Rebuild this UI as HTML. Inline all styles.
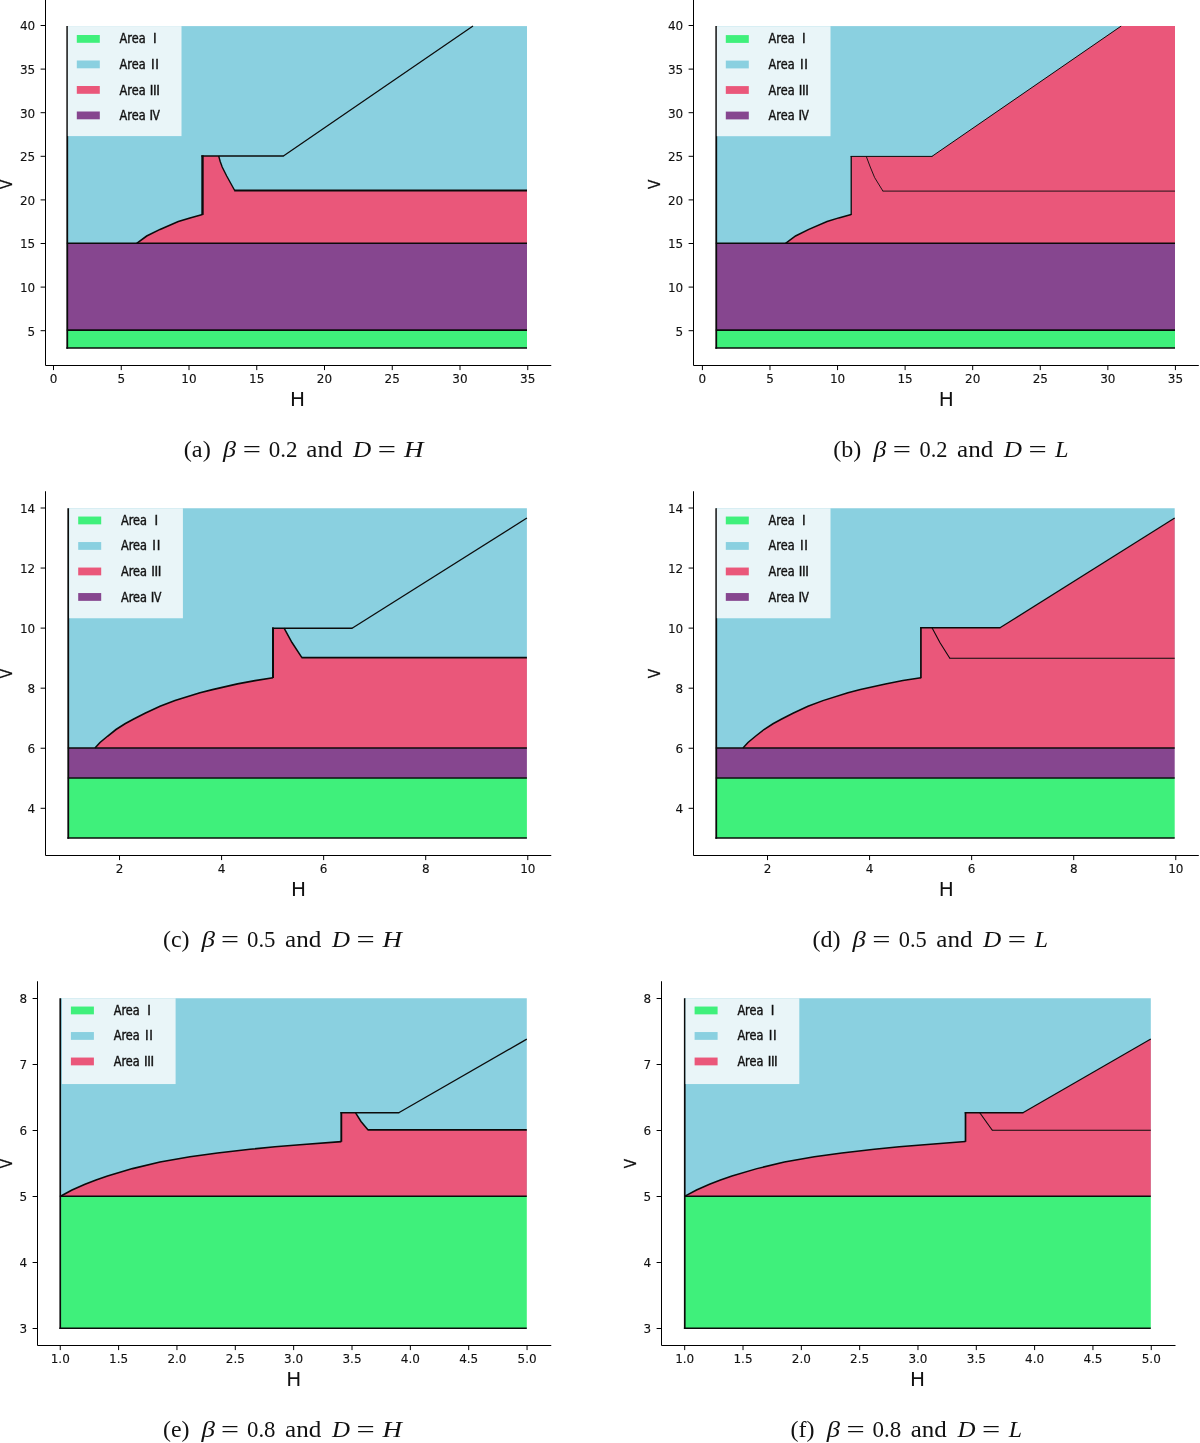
<!DOCTYPE html>
<html lang="en"><head><meta charset="utf-8"><title>Areas I-IV</title>
<style>html,body{margin:0;padding:0;background:#fff}svg{display:block}</style></head><body>
<svg width="1200" height="1443" viewBox="0 0 1200 1443">
<rect width="1200" height="1443" fill="#fff"/>
<rect x="67.00" y="26.1" width="460.00" height="217.10" fill="#8ad0e0"/>
<rect x="67.00" y="243.2" width="460.00" height="86.90" fill="#86468f"/>
<rect x="67.00" y="330.1" width="460.00" height="17.90" fill="#3ff07b"/>
<polygon points="136.70,243.30 146.70,236.00 160.00,229.40 178.30,221.50 190.00,217.90 202.50,214.60 202.50,156.00 218.70,156.00 220.20,161.50 222.20,167.00 226.70,176.00 234.70,190.50 527.00,190.50 527.00,243.20" fill="#ea577a"/>
<polyline points="136.70,243.30 146.70,236.00 160.00,229.40 178.30,221.50 190.00,217.90 202.50,214.60" fill="none" stroke="#0b0b0b" stroke-width="1.6" stroke-linejoin="miter" stroke-linecap="butt"/>
<polyline points="202.50,214.90 202.50,155.30" fill="none" stroke="#0b0b0b" stroke-width="2.4" stroke-linejoin="miter" stroke-linecap="butt"/>
<polyline points="201.40,156.00 283.80,156.00" fill="none" stroke="#0b0b0b" stroke-width="1.5" stroke-linejoin="miter" stroke-linecap="butt"/>
<polyline points="283.40,156.00 473.00,26.10" fill="none" stroke="#0b0b0b" stroke-width="1.25" stroke-linejoin="miter" stroke-linecap="butt"/>
<polyline points="218.70,156.00 220.20,161.50 222.20,167.00 226.70,176.00 234.70,190.50" fill="none" stroke="#0b0b0b" stroke-width="1.4" stroke-linejoin="miter" stroke-linecap="butt"/>
<polyline points="234.20,190.50 527.00,190.50" fill="none" stroke="#0b0b0b" stroke-width="2.0" stroke-linejoin="miter" stroke-linecap="butt"/>
<polyline points="66.80,243.20 527.00,243.20" fill="none" stroke="#0b0b0b" stroke-width="1.6" stroke-linejoin="miter" stroke-linecap="butt"/>
<polyline points="66.80,330.10 527.00,330.10" fill="none" stroke="#0b0b0b" stroke-width="1.65" stroke-linejoin="miter" stroke-linecap="butt"/>
<polyline points="67.25,26.10 67.25,348.80" fill="none" stroke="#0b0b0b" stroke-width="1.8" stroke-linejoin="miter" stroke-linecap="butt"/>
<polyline points="66.35,348.00 527.00,348.00" fill="none" stroke="#0b0b0b" stroke-width="1.6" stroke-linejoin="miter" stroke-linecap="butt"/>
<rect x="67.80" y="26.10" width="113.70" height="110" fill="#e9f5f8"/>
<rect x="76.80" y="35.00" width="23" height="7.8" fill="#3ff07b"/>
<text y="43.30" font-family="DejaVu Sans Condensed, DejaVu Sans, Liberation Sans, sans-serif" font-size="13.6" fill="#111" stroke="#111" stroke-width="0.4"><tspan x="119.60" textLength="26.0" lengthAdjust="spacingAndGlyphs">Area</tspan><tspan x="153.05">I</tspan></text>
<rect x="76.80" y="60.50" width="23" height="7.8" fill="#8ad0e0"/>
<text y="68.90" font-family="DejaVu Sans Condensed, DejaVu Sans, Liberation Sans, sans-serif" font-size="13.6" fill="#111" stroke="#111" stroke-width="0.4"><tspan x="119.60" textLength="26.0" lengthAdjust="spacingAndGlyphs">Area</tspan><tspan x="150.90 155.25">II</tspan></text>
<rect x="76.80" y="86.00" width="23" height="7.8" fill="#ea577a"/>
<text y="94.50" font-family="DejaVu Sans Condensed, DejaVu Sans, Liberation Sans, sans-serif" font-size="13.6" fill="#111" stroke="#111" stroke-width="0.4"><tspan x="119.60" textLength="26.0" lengthAdjust="spacingAndGlyphs">Area</tspan><tspan x="149.85 153.10 156.30">III</tspan></text>
<rect x="76.80" y="111.50" width="23" height="7.8" fill="#86468f"/>
<text y="120.10" font-family="DejaVu Sans Condensed, DejaVu Sans, Liberation Sans, sans-serif" font-size="13.6" fill="#111" stroke="#111" stroke-width="0.4"><tspan x="119.60" textLength="26.0" lengthAdjust="spacingAndGlyphs">Area</tspan><tspan x="149.45">I</tspan><tspan x="152.60" textLength="7.4" lengthAdjust="spacingAndGlyphs">V</tspan></text>
<path d="M45.50,-2.00V365.50H551.25" fill="none" stroke="#000" stroke-width="1.0"/>
<path d="M53.50,365.50v4.6M121.25,365.50v4.6M189.00,365.50v4.6M256.75,365.50v4.6M324.50,365.50v4.6M392.25,365.50v4.6M460.00,365.50v4.6M527.75,365.50v4.6M45.50,330.70h-4.9M45.50,287.10h-4.9M45.50,243.50h-4.9M45.50,199.90h-4.9M45.50,156.30h-4.9M45.50,112.70h-4.9M45.50,69.10h-4.9M45.50,25.50h-4.9" fill="none" stroke="#000" stroke-width="1.0"/>
<g font-family="DejaVu Sans, Liberation Sans, sans-serif" font-size="12" fill="#111" stroke="#111" stroke-width="0.12">
<text x="53.50" y="383.10" text-anchor="middle">0</text>
<text x="121.25" y="383.10" text-anchor="middle">5</text>
<text x="189.00" y="383.10" text-anchor="middle">10</text>
<text x="256.75" y="383.10" text-anchor="middle">15</text>
<text x="324.50" y="383.10" text-anchor="middle">20</text>
<text x="392.25" y="383.10" text-anchor="middle">25</text>
<text x="460.00" y="383.10" text-anchor="middle">30</text>
<text x="527.75" y="383.10" text-anchor="middle">35</text>
<text x="35.20" y="335.50" text-anchor="end">5</text>
<text x="35.20" y="291.90" text-anchor="end">10</text>
<text x="35.20" y="248.30" text-anchor="end">15</text>
<text x="35.20" y="204.70" text-anchor="end">20</text>
<text x="35.20" y="161.10" text-anchor="end">25</text>
<text x="35.20" y="117.50" text-anchor="end">30</text>
<text x="35.20" y="73.90" text-anchor="end">35</text>
<text x="35.20" y="30.30" text-anchor="end">40</text>
</g>
<text x="297.40" y="405.70" text-anchor="middle" font-family="DejaVu Sans, Liberation Sans, sans-serif" font-size="20" fill="#111">H</text>
<text transform="translate(11.70,184.40) rotate(-90) scale(0.86,1)" text-anchor="middle" font-family="DejaVu Sans, Liberation Sans, sans-serif" font-size="16" fill="#111" stroke="#111" stroke-width="0.3">V</text>
<rect x="716.00" y="26.1" width="459.00" height="217.10" fill="#8ad0e0"/>
<rect x="716.00" y="243.2" width="459.00" height="86.90" fill="#86468f"/>
<rect x="716.00" y="330.1" width="459.00" height="17.90" fill="#3ff07b"/>
<polygon points="785.55,243.30 795.53,236.00 808.80,229.40 827.06,221.50 838.73,217.90 851.21,214.60 851.21,156.40 931.93,156.40 1121.12,26.10 1175.00,26.10 1175.00,243.20" fill="#ea577a"/>
<polyline points="785.55,243.30 795.53,236.00 808.80,229.40 827.06,221.50 838.73,217.90 851.21,214.60" fill="none" stroke="#0b0b0b" stroke-width="1.5" stroke-linejoin="miter" stroke-linecap="butt"/>
<polyline points="851.21,214.90 851.21,155.90" fill="none" stroke="#0b0b0b" stroke-width="1.3" stroke-linejoin="miter" stroke-linecap="butt"/>
<polyline points="850.71,156.40 932.33,156.40" fill="none" stroke="#0b0b0b" stroke-width="1.0" stroke-linejoin="miter" stroke-linecap="butt"/>
<polyline points="931.93,156.40 1121.12,26.10" fill="none" stroke="#0b0b0b" stroke-width="1.0" stroke-linejoin="miter" stroke-linecap="butt"/>
<polyline points="866.27,156.40 870.26,167.00 874.65,177.60 882.94,191.10" fill="none" stroke="#0b0b0b" stroke-width="0.9" stroke-linejoin="miter" stroke-linecap="butt"/>
<polyline points="882.64,191.10 1175.00,191.10" fill="none" stroke="#0b0b0b" stroke-width="0.9" stroke-linejoin="miter" stroke-linecap="butt"/>
<polyline points="715.80,243.20 1175.00,243.20" fill="none" stroke="#0b0b0b" stroke-width="1.6" stroke-linejoin="miter" stroke-linecap="butt"/>
<polyline points="715.80,330.10 1175.00,330.10" fill="none" stroke="#0b0b0b" stroke-width="1.65" stroke-linejoin="miter" stroke-linecap="butt"/>
<polyline points="716.25,26.10 716.25,348.80" fill="none" stroke="#0b0b0b" stroke-width="1.8" stroke-linejoin="miter" stroke-linecap="butt"/>
<polyline points="715.35,348.00 1175.00,348.00" fill="none" stroke="#0b0b0b" stroke-width="1.6" stroke-linejoin="miter" stroke-linecap="butt"/>
<rect x="716.80" y="26.20" width="113.70" height="110" fill="#e9f5f8"/>
<rect x="725.80" y="35.10" width="23" height="7.8" fill="#3ff07b"/>
<text y="43.40" font-family="DejaVu Sans Condensed, DejaVu Sans, Liberation Sans, sans-serif" font-size="13.6" fill="#111" stroke="#111" stroke-width="0.4"><tspan x="768.60" textLength="26.0" lengthAdjust="spacingAndGlyphs">Area</tspan><tspan x="802.05">I</tspan></text>
<rect x="725.80" y="60.60" width="23" height="7.8" fill="#8ad0e0"/>
<text y="69.00" font-family="DejaVu Sans Condensed, DejaVu Sans, Liberation Sans, sans-serif" font-size="13.6" fill="#111" stroke="#111" stroke-width="0.4"><tspan x="768.60" textLength="26.0" lengthAdjust="spacingAndGlyphs">Area</tspan><tspan x="799.90 804.25">II</tspan></text>
<rect x="725.80" y="86.10" width="23" height="7.8" fill="#ea577a"/>
<text y="94.60" font-family="DejaVu Sans Condensed, DejaVu Sans, Liberation Sans, sans-serif" font-size="13.6" fill="#111" stroke="#111" stroke-width="0.4"><tspan x="768.60" textLength="26.0" lengthAdjust="spacingAndGlyphs">Area</tspan><tspan x="798.85 802.10 805.30">III</tspan></text>
<rect x="725.80" y="111.60" width="23" height="7.8" fill="#86468f"/>
<text y="120.20" font-family="DejaVu Sans Condensed, DejaVu Sans, Liberation Sans, sans-serif" font-size="13.6" fill="#111" stroke="#111" stroke-width="0.4"><tspan x="768.60" textLength="26.0" lengthAdjust="spacingAndGlyphs">Area</tspan><tspan x="798.45">I</tspan><tspan x="801.60" textLength="7.4" lengthAdjust="spacingAndGlyphs">V</tspan></text>
<path d="M693.50,-2.00V365.50H1198.80" fill="none" stroke="#000" stroke-width="1.0"/>
<path d="M702.40,365.50v4.6M769.98,365.50v4.6M837.55,365.50v4.6M905.12,365.50v4.6M972.70,365.50v4.6M1040.28,365.50v4.6M1107.85,365.50v4.6M1175.42,365.50v4.6M693.50,330.70h-4.9M693.50,287.10h-4.9M693.50,243.50h-4.9M693.50,199.90h-4.9M693.50,156.30h-4.9M693.50,112.70h-4.9M693.50,69.10h-4.9M693.50,25.50h-4.9" fill="none" stroke="#000" stroke-width="1.0"/>
<g font-family="DejaVu Sans, Liberation Sans, sans-serif" font-size="12" fill="#111" stroke="#111" stroke-width="0.12">
<text x="702.40" y="383.10" text-anchor="middle">0</text>
<text x="769.98" y="383.10" text-anchor="middle">5</text>
<text x="837.55" y="383.10" text-anchor="middle">10</text>
<text x="905.12" y="383.10" text-anchor="middle">15</text>
<text x="972.70" y="383.10" text-anchor="middle">20</text>
<text x="1040.28" y="383.10" text-anchor="middle">25</text>
<text x="1107.85" y="383.10" text-anchor="middle">30</text>
<text x="1175.42" y="383.10" text-anchor="middle">35</text>
<text x="683.20" y="335.50" text-anchor="end">5</text>
<text x="683.20" y="291.90" text-anchor="end">10</text>
<text x="683.20" y="248.30" text-anchor="end">15</text>
<text x="683.20" y="204.70" text-anchor="end">20</text>
<text x="683.20" y="161.10" text-anchor="end">25</text>
<text x="683.20" y="117.50" text-anchor="end">30</text>
<text x="683.20" y="73.90" text-anchor="end">35</text>
<text x="683.20" y="30.30" text-anchor="end">40</text>
</g>
<text x="946.25" y="405.70" text-anchor="middle" font-family="DejaVu Sans, Liberation Sans, sans-serif" font-size="20" fill="#111">H</text>
<text transform="translate(659.90,184.40) rotate(-90) scale(0.86,1)" text-anchor="middle" font-family="DejaVu Sans, Liberation Sans, sans-serif" font-size="16" fill="#111" stroke="#111" stroke-width="0.3">V</text>
<rect x="68.00" y="508.25" width="458.90" height="239.75" fill="#8ad0e0"/>
<rect x="68.00" y="748.0" width="458.90" height="29.90" fill="#86468f"/>
<rect x="68.00" y="777.9" width="458.90" height="60.10" fill="#3ff07b"/>
<polygon points="95.00,748.00 100.00,742.50 107.50,736.25 116.00,729.50 125.00,723.75 133.75,719.00 145.00,713.25 160.00,706.30 175.00,700.60 200.00,692.80 212.50,689.60 237.50,683.90 255.00,680.60 273.00,677.70 273.00,628.20 284.10,628.20 292.00,642.50 301.90,657.60 526.90,657.60 526.90,748.00" fill="#ea577a"/>
<polyline points="95.00,748.00 100.00,742.50 107.50,736.25 116.00,729.50 125.00,723.75 133.75,719.00 145.00,713.25 160.00,706.30 175.00,700.60 200.00,692.80 212.50,689.60 237.50,683.90 255.00,680.60 273.00,677.70" fill="none" stroke="#0b0b0b" stroke-width="1.6" stroke-linejoin="miter" stroke-linecap="butt"/>
<polyline points="273.00,678.00 273.00,627.50" fill="none" stroke="#0b0b0b" stroke-width="2.0" stroke-linejoin="miter" stroke-linecap="butt"/>
<polyline points="272.00,628.20 352.50,628.20" fill="none" stroke="#0b0b0b" stroke-width="1.6" stroke-linejoin="miter" stroke-linecap="butt"/>
<polyline points="352.10,628.20 526.90,518.00" fill="none" stroke="#0b0b0b" stroke-width="1.3" stroke-linejoin="miter" stroke-linecap="butt"/>
<polyline points="284.10,628.20 292.00,642.50 301.90,657.60" fill="none" stroke="#0b0b0b" stroke-width="1.5" stroke-linejoin="miter" stroke-linecap="butt"/>
<polyline points="301.50,657.60 526.90,657.60" fill="none" stroke="#0b0b0b" stroke-width="1.8" stroke-linejoin="miter" stroke-linecap="butt"/>
<polyline points="67.80,748.00 526.90,748.00" fill="none" stroke="#0b0b0b" stroke-width="1.55" stroke-linejoin="miter" stroke-linecap="butt"/>
<polyline points="67.80,777.90 526.90,777.90" fill="none" stroke="#0b0b0b" stroke-width="1.55" stroke-linejoin="miter" stroke-linecap="butt"/>
<polyline points="68.25,508.25 68.25,838.80" fill="none" stroke="#0b0b0b" stroke-width="1.8" stroke-linejoin="miter" stroke-linecap="butt"/>
<polyline points="67.35,838.00 526.90,838.00" fill="none" stroke="#0b0b0b" stroke-width="1.55" stroke-linejoin="miter" stroke-linecap="butt"/>
<rect x="69.20" y="508.25" width="113.70" height="110" fill="#e9f5f8"/>
<rect x="78.20" y="516.55" width="23" height="7.8" fill="#3ff07b"/>
<text y="524.85" font-family="DejaVu Sans Condensed, DejaVu Sans, Liberation Sans, sans-serif" font-size="13.6" fill="#111" stroke="#111" stroke-width="0.4"><tspan x="121.00" textLength="26.0" lengthAdjust="spacingAndGlyphs">Area</tspan><tspan x="154.45">I</tspan></text>
<rect x="78.20" y="542.05" width="23" height="7.8" fill="#8ad0e0"/>
<text y="550.45" font-family="DejaVu Sans Condensed, DejaVu Sans, Liberation Sans, sans-serif" font-size="13.6" fill="#111" stroke="#111" stroke-width="0.4"><tspan x="121.00" textLength="26.0" lengthAdjust="spacingAndGlyphs">Area</tspan><tspan x="152.30 156.65">II</tspan></text>
<rect x="78.20" y="567.55" width="23" height="7.8" fill="#ea577a"/>
<text y="576.05" font-family="DejaVu Sans Condensed, DejaVu Sans, Liberation Sans, sans-serif" font-size="13.6" fill="#111" stroke="#111" stroke-width="0.4"><tspan x="121.00" textLength="26.0" lengthAdjust="spacingAndGlyphs">Area</tspan><tspan x="151.25 154.50 157.70">III</tspan></text>
<rect x="78.20" y="593.05" width="23" height="7.8" fill="#86468f"/>
<text y="601.65" font-family="DejaVu Sans Condensed, DejaVu Sans, Liberation Sans, sans-serif" font-size="13.6" fill="#111" stroke="#111" stroke-width="0.4"><tspan x="121.00" textLength="26.0" lengthAdjust="spacingAndGlyphs">Area</tspan><tspan x="150.85">I</tspan><tspan x="154.00" textLength="7.4" lengthAdjust="spacingAndGlyphs">V</tspan></text>
<path d="M45.50,491.25V855.50H551.25" fill="none" stroke="#000" stroke-width="1.0"/>
<path d="M119.53,855.50v4.6M221.59,855.50v4.6M323.65,855.50v4.6M425.71,855.50v4.6M527.77,855.50v4.6M45.50,808.30h-4.9M45.50,748.24h-4.9M45.50,688.18h-4.9M45.50,628.12h-4.9M45.50,568.06h-4.9M45.50,508.00h-4.9" fill="none" stroke="#000" stroke-width="1.0"/>
<g font-family="DejaVu Sans, Liberation Sans, sans-serif" font-size="12" fill="#111" stroke="#111" stroke-width="0.12">
<text x="119.53" y="873.10" text-anchor="middle">2</text>
<text x="221.59" y="873.10" text-anchor="middle">4</text>
<text x="323.65" y="873.10" text-anchor="middle">6</text>
<text x="425.71" y="873.10" text-anchor="middle">8</text>
<text x="527.77" y="873.10" text-anchor="middle">10</text>
<text x="35.20" y="813.10" text-anchor="end">4</text>
<text x="35.20" y="753.04" text-anchor="end">6</text>
<text x="35.20" y="692.98" text-anchor="end">8</text>
<text x="35.20" y="632.92" text-anchor="end">10</text>
<text x="35.20" y="572.86" text-anchor="end">12</text>
<text x="35.20" y="512.80" text-anchor="end">14</text>
</g>
<text x="298.50" y="895.70" text-anchor="middle" font-family="DejaVu Sans, Liberation Sans, sans-serif" font-size="20" fill="#111">H</text>
<text transform="translate(12.30,673.60) rotate(-90) scale(0.86,1)" text-anchor="middle" font-family="DejaVu Sans, Liberation Sans, sans-serif" font-size="16" fill="#111" stroke="#111" stroke-width="0.3">V</text>
<rect x="716.00" y="508.25" width="458.70" height="239.75" fill="#8ad0e0"/>
<rect x="716.00" y="748.0" width="458.70" height="29.90" fill="#86468f"/>
<rect x="716.00" y="777.9" width="458.70" height="60.10" fill="#3ff07b"/>
<polygon points="742.99,748.00 747.99,742.50 755.48,736.25 763.98,729.50 772.98,723.75 781.72,719.00 792.97,713.25 807.96,706.30 822.95,700.60 847.94,692.80 860.44,689.60 885.43,683.90 902.92,680.60 920.91,677.70 920.91,627.80 999.98,627.80 1174.70,518.00 1174.70,748.00" fill="#ea577a"/>
<polyline points="742.99,748.00 747.99,742.50 755.48,736.25 763.98,729.50 772.98,723.75 781.72,719.00 792.97,713.25 807.96,706.30 822.95,700.60 847.94,692.80 860.44,689.60 885.43,683.90 902.92,680.60 920.91,677.70" fill="none" stroke="#0b0b0b" stroke-width="1.5" stroke-linejoin="miter" stroke-linecap="butt"/>
<polyline points="920.91,678.20 920.91,627.20" fill="none" stroke="#0b0b0b" stroke-width="1.7" stroke-linejoin="miter" stroke-linecap="butt"/>
<polyline points="920.11,627.80 1000.38,627.80" fill="none" stroke="#0b0b0b" stroke-width="1.4" stroke-linejoin="miter" stroke-linecap="butt"/>
<polyline points="999.98,627.80 1174.70,518.00" fill="none" stroke="#0b0b0b" stroke-width="1.2" stroke-linejoin="miter" stroke-linecap="butt"/>
<polyline points="932.01,627.80 939.90,642.50 949.80,658.20" fill="none" stroke="#0b0b0b" stroke-width="1.1" stroke-linejoin="miter" stroke-linecap="butt"/>
<polyline points="949.40,658.20 1174.70,658.20" fill="none" stroke="#0b0b0b" stroke-width="1.1" stroke-linejoin="miter" stroke-linecap="butt"/>
<polyline points="715.80,748.00 1174.70,748.00" fill="none" stroke="#0b0b0b" stroke-width="1.55" stroke-linejoin="miter" stroke-linecap="butt"/>
<polyline points="715.80,777.90 1174.70,777.90" fill="none" stroke="#0b0b0b" stroke-width="1.55" stroke-linejoin="miter" stroke-linecap="butt"/>
<polyline points="716.25,508.25 716.25,838.80" fill="none" stroke="#0b0b0b" stroke-width="1.8" stroke-linejoin="miter" stroke-linecap="butt"/>
<polyline points="715.35,838.00 1174.70,838.00" fill="none" stroke="#0b0b0b" stroke-width="1.55" stroke-linejoin="miter" stroke-linecap="butt"/>
<rect x="716.80" y="508.25" width="113.70" height="110" fill="#e9f5f8"/>
<rect x="725.80" y="516.55" width="23" height="7.8" fill="#3ff07b"/>
<text y="524.85" font-family="DejaVu Sans Condensed, DejaVu Sans, Liberation Sans, sans-serif" font-size="13.6" fill="#111" stroke="#111" stroke-width="0.4"><tspan x="768.60" textLength="26.0" lengthAdjust="spacingAndGlyphs">Area</tspan><tspan x="802.05">I</tspan></text>
<rect x="725.80" y="542.05" width="23" height="7.8" fill="#8ad0e0"/>
<text y="550.45" font-family="DejaVu Sans Condensed, DejaVu Sans, Liberation Sans, sans-serif" font-size="13.6" fill="#111" stroke="#111" stroke-width="0.4"><tspan x="768.60" textLength="26.0" lengthAdjust="spacingAndGlyphs">Area</tspan><tspan x="799.90 804.25">II</tspan></text>
<rect x="725.80" y="567.55" width="23" height="7.8" fill="#ea577a"/>
<text y="576.05" font-family="DejaVu Sans Condensed, DejaVu Sans, Liberation Sans, sans-serif" font-size="13.6" fill="#111" stroke="#111" stroke-width="0.4"><tspan x="768.60" textLength="26.0" lengthAdjust="spacingAndGlyphs">Area</tspan><tspan x="798.85 802.10 805.30">III</tspan></text>
<rect x="725.80" y="593.05" width="23" height="7.8" fill="#86468f"/>
<text y="601.65" font-family="DejaVu Sans Condensed, DejaVu Sans, Liberation Sans, sans-serif" font-size="13.6" fill="#111" stroke="#111" stroke-width="0.4"><tspan x="768.60" textLength="26.0" lengthAdjust="spacingAndGlyphs">Area</tspan><tspan x="798.45">I</tspan><tspan x="801.60" textLength="7.4" lengthAdjust="spacingAndGlyphs">V</tspan></text>
<path d="M693.50,491.25V855.50H1198.80" fill="none" stroke="#000" stroke-width="1.0"/>
<path d="M767.53,855.50v4.6M869.59,855.50v4.6M971.65,855.50v4.6M1073.71,855.50v4.6M1175.77,855.50v4.6M693.50,808.30h-4.9M693.50,748.24h-4.9M693.50,688.18h-4.9M693.50,628.12h-4.9M693.50,568.06h-4.9M693.50,508.00h-4.9" fill="none" stroke="#000" stroke-width="1.0"/>
<g font-family="DejaVu Sans, Liberation Sans, sans-serif" font-size="12" fill="#111" stroke="#111" stroke-width="0.12">
<text x="767.53" y="873.10" text-anchor="middle">2</text>
<text x="869.59" y="873.10" text-anchor="middle">4</text>
<text x="971.65" y="873.10" text-anchor="middle">6</text>
<text x="1073.71" y="873.10" text-anchor="middle">8</text>
<text x="1175.77" y="873.10" text-anchor="middle">10</text>
<text x="683.20" y="813.10" text-anchor="end">4</text>
<text x="683.20" y="753.04" text-anchor="end">6</text>
<text x="683.20" y="692.98" text-anchor="end">8</text>
<text x="683.20" y="632.92" text-anchor="end">10</text>
<text x="683.20" y="572.86" text-anchor="end">12</text>
<text x="683.20" y="512.80" text-anchor="end">14</text>
</g>
<text x="946.25" y="895.70" text-anchor="middle" font-family="DejaVu Sans, Liberation Sans, sans-serif" font-size="20" fill="#111">H</text>
<text transform="translate(659.90,673.60) rotate(-90) scale(0.86,1)" text-anchor="middle" font-family="DejaVu Sans, Liberation Sans, sans-serif" font-size="16" fill="#111" stroke="#111" stroke-width="0.3">V</text>
<rect x="60.00" y="998.25" width="466.80" height="198.05" fill="#8ad0e0"/>
<rect x="60.00" y="1196.3" width="466.80" height="131.90" fill="#3ff07b"/>
<polygon points="60.50,1196.20 72.00,1190.00 85.00,1184.30 96.00,1180.00 107.50,1176.00 132.50,1168.60 160.00,1162.00 190.00,1156.80 217.50,1153.00 250.00,1149.30 275.00,1146.80 300.00,1144.80 341.30,1141.60 341.30,1112.80 355.60,1112.80 361.00,1121.50 368.10,1129.90 526.80,1129.90 526.80,1196.30" fill="#ea577a"/>
<polyline points="60.50,1196.20 72.00,1190.00 85.00,1184.30 96.00,1180.00 107.50,1176.00 132.50,1168.60 160.00,1162.00 190.00,1156.80 217.50,1153.00 250.00,1149.30 275.00,1146.80 300.00,1144.80 341.30,1141.60" fill="none" stroke="#0b0b0b" stroke-width="1.6" stroke-linejoin="miter" stroke-linecap="butt"/>
<polyline points="341.30,1141.80 341.30,1112.10" fill="none" stroke="#0b0b0b" stroke-width="1.9" stroke-linejoin="miter" stroke-linecap="butt"/>
<polyline points="340.40,1112.80 399.20,1112.80" fill="none" stroke="#0b0b0b" stroke-width="1.6" stroke-linejoin="miter" stroke-linecap="butt"/>
<polyline points="398.75,1112.80 526.80,1039.10" fill="none" stroke="#0b0b0b" stroke-width="1.3" stroke-linejoin="miter" stroke-linecap="butt"/>
<polyline points="355.60,1112.80 361.00,1121.50 368.10,1129.90" fill="none" stroke="#0b0b0b" stroke-width="1.5" stroke-linejoin="miter" stroke-linecap="butt"/>
<polyline points="367.80,1129.90 526.80,1129.90" fill="none" stroke="#0b0b0b" stroke-width="1.8" stroke-linejoin="miter" stroke-linecap="butt"/>
<polyline points="59.80,1196.30 526.80,1196.30" fill="none" stroke="#0b0b0b" stroke-width="1.55" stroke-linejoin="miter" stroke-linecap="butt"/>
<polyline points="60.25,998.25 60.25,1329.00" fill="none" stroke="#0b0b0b" stroke-width="1.7" stroke-linejoin="miter" stroke-linecap="butt"/>
<polyline points="59.40,1328.20 526.80,1328.20" fill="none" stroke="#0b0b0b" stroke-width="1.55" stroke-linejoin="miter" stroke-linecap="butt"/>
<rect x="61.90" y="998.25" width="113.70" height="85.8" fill="#e9f5f8"/>
<rect x="70.90" y="1006.55" width="23" height="7.8" fill="#3ff07b"/>
<text y="1014.85" font-family="DejaVu Sans Condensed, DejaVu Sans, Liberation Sans, sans-serif" font-size="13.6" fill="#111" stroke="#111" stroke-width="0.4"><tspan x="113.70" textLength="26.0" lengthAdjust="spacingAndGlyphs">Area</tspan><tspan x="147.15">I</tspan></text>
<rect x="70.90" y="1032.05" width="23" height="7.8" fill="#8ad0e0"/>
<text y="1040.45" font-family="DejaVu Sans Condensed, DejaVu Sans, Liberation Sans, sans-serif" font-size="13.6" fill="#111" stroke="#111" stroke-width="0.4"><tspan x="113.70" textLength="26.0" lengthAdjust="spacingAndGlyphs">Area</tspan><tspan x="145.00 149.35">II</tspan></text>
<rect x="70.90" y="1057.55" width="23" height="7.8" fill="#ea577a"/>
<text y="1066.05" font-family="DejaVu Sans Condensed, DejaVu Sans, Liberation Sans, sans-serif" font-size="13.6" fill="#111" stroke="#111" stroke-width="0.4"><tspan x="113.70" textLength="26.0" lengthAdjust="spacingAndGlyphs">Area</tspan><tspan x="143.95 147.20 150.40">III</tspan></text>
<path d="M37.50,981.25V1345.50H551.25" fill="none" stroke="#000" stroke-width="1.0"/>
<path d="M60.25,1345.50v4.6M118.60,1345.50v4.6M176.95,1345.50v4.6M235.30,1345.50v4.6M293.65,1345.50v4.6M352.00,1345.50v4.6M410.35,1345.50v4.6M468.70,1345.50v4.6M527.05,1345.50v4.6M37.50,1328.50h-4.9M37.50,1262.50h-4.9M37.50,1196.50h-4.9M37.50,1130.50h-4.9M37.50,1064.50h-4.9M37.50,998.50h-4.9" fill="none" stroke="#000" stroke-width="1.0"/>
<g font-family="DejaVu Sans, Liberation Sans, sans-serif" font-size="12" fill="#111" stroke="#111" stroke-width="0.12">
<text x="60.25" y="1363.10" text-anchor="middle">1.0</text>
<text x="118.60" y="1363.10" text-anchor="middle">1.5</text>
<text x="176.95" y="1363.10" text-anchor="middle">2.0</text>
<text x="235.30" y="1363.10" text-anchor="middle">2.5</text>
<text x="293.65" y="1363.10" text-anchor="middle">3.0</text>
<text x="352.00" y="1363.10" text-anchor="middle">3.5</text>
<text x="410.35" y="1363.10" text-anchor="middle">4.0</text>
<text x="468.70" y="1363.10" text-anchor="middle">4.5</text>
<text x="527.05" y="1363.10" text-anchor="middle">5.0</text>
<text x="27.20" y="1333.30" text-anchor="end">3</text>
<text x="27.20" y="1267.30" text-anchor="end">4</text>
<text x="27.20" y="1201.30" text-anchor="end">5</text>
<text x="27.20" y="1135.30" text-anchor="end">6</text>
<text x="27.20" y="1069.30" text-anchor="end">7</text>
<text x="27.20" y="1003.30" text-anchor="end">8</text>
</g>
<text x="293.70" y="1385.70" text-anchor="middle" font-family="DejaVu Sans, Liberation Sans, sans-serif" font-size="20" fill="#111">H</text>
<text transform="translate(12.00,1163.60) rotate(-90) scale(0.86,1)" text-anchor="middle" font-family="DejaVu Sans, Liberation Sans, sans-serif" font-size="16" fill="#111" stroke="#111" stroke-width="0.3">V</text>
<rect x="684.50" y="998.25" width="466.30" height="198.05" fill="#8ad0e0"/>
<rect x="684.50" y="1196.3" width="466.30" height="131.90" fill="#3ff07b"/>
<polygon points="685.00,1196.20 696.49,1190.00 709.47,1184.30 720.46,1180.00 731.95,1176.00 756.92,1168.60 784.39,1162.00 814.36,1156.80 841.83,1153.00 874.30,1149.30 899.27,1146.80 924.24,1144.80 965.50,1141.60 965.50,1112.80 1022.89,1112.80 1150.80,1039.10 1150.80,1196.30" fill="#ea577a"/>
<polyline points="685.00,1196.20 696.49,1190.00 709.47,1184.30 720.46,1180.00 731.95,1176.00 756.92,1168.60 784.39,1162.00 814.36,1156.80 841.83,1153.00 874.30,1149.30 899.27,1146.80 924.24,1144.80 965.50,1141.60" fill="none" stroke="#0b0b0b" stroke-width="1.5" stroke-linejoin="miter" stroke-linecap="butt"/>
<polyline points="965.50,1141.80 965.50,1112.20" fill="none" stroke="#0b0b0b" stroke-width="1.7" stroke-linejoin="miter" stroke-linecap="butt"/>
<polyline points="964.70,1112.80 1023.34,1112.80" fill="none" stroke="#0b0b0b" stroke-width="1.4" stroke-linejoin="miter" stroke-linecap="butt"/>
<polyline points="1022.89,1112.80 1150.80,1039.10" fill="none" stroke="#0b0b0b" stroke-width="1.2" stroke-linejoin="miter" stroke-linecap="butt"/>
<polyline points="979.78,1112.80 992.27,1130.20" fill="none" stroke="#0b0b0b" stroke-width="1.1" stroke-linejoin="miter" stroke-linecap="butt"/>
<polyline points="991.97,1130.20 1150.80,1130.20" fill="none" stroke="#0b0b0b" stroke-width="1.1" stroke-linejoin="miter" stroke-linecap="butt"/>
<polyline points="684.30,1196.30 1150.80,1196.30" fill="none" stroke="#0b0b0b" stroke-width="1.55" stroke-linejoin="miter" stroke-linecap="butt"/>
<polyline points="684.75,998.25 684.75,1329.00" fill="none" stroke="#0b0b0b" stroke-width="1.7" stroke-linejoin="miter" stroke-linecap="butt"/>
<polyline points="683.90,1328.20 1150.80,1328.20" fill="none" stroke="#0b0b0b" stroke-width="1.55" stroke-linejoin="miter" stroke-linecap="butt"/>
<rect x="685.60" y="998.25" width="113.70" height="85.8" fill="#e9f5f8"/>
<rect x="694.60" y="1006.55" width="23" height="7.8" fill="#3ff07b"/>
<text y="1014.85" font-family="DejaVu Sans Condensed, DejaVu Sans, Liberation Sans, sans-serif" font-size="13.6" fill="#111" stroke="#111" stroke-width="0.4"><tspan x="737.40" textLength="26.0" lengthAdjust="spacingAndGlyphs">Area</tspan><tspan x="770.85">I</tspan></text>
<rect x="694.60" y="1032.05" width="23" height="7.8" fill="#8ad0e0"/>
<text y="1040.45" font-family="DejaVu Sans Condensed, DejaVu Sans, Liberation Sans, sans-serif" font-size="13.6" fill="#111" stroke="#111" stroke-width="0.4"><tspan x="737.40" textLength="26.0" lengthAdjust="spacingAndGlyphs">Area</tspan><tspan x="768.70 773.05">II</tspan></text>
<rect x="694.60" y="1057.55" width="23" height="7.8" fill="#ea577a"/>
<text y="1066.05" font-family="DejaVu Sans Condensed, DejaVu Sans, Liberation Sans, sans-serif" font-size="13.6" fill="#111" stroke="#111" stroke-width="0.4"><tspan x="737.40" textLength="26.0" lengthAdjust="spacingAndGlyphs">Area</tspan><tspan x="767.65 770.90 774.10">III</tspan></text>
<path d="M661.50,981.25V1345.50H1175.50" fill="none" stroke="#000" stroke-width="1.0"/>
<path d="M684.70,1345.50v4.6M743.02,1345.50v4.6M801.34,1345.50v4.6M859.66,1345.50v4.6M917.98,1345.50v4.6M976.30,1345.50v4.6M1034.62,1345.50v4.6M1092.94,1345.50v4.6M1151.26,1345.50v4.6M661.50,1328.50h-4.9M661.50,1262.50h-4.9M661.50,1196.50h-4.9M661.50,1130.50h-4.9M661.50,1064.50h-4.9M661.50,998.50h-4.9" fill="none" stroke="#000" stroke-width="1.0"/>
<g font-family="DejaVu Sans, Liberation Sans, sans-serif" font-size="12" fill="#111" stroke="#111" stroke-width="0.12">
<text x="684.70" y="1363.10" text-anchor="middle">1.0</text>
<text x="743.02" y="1363.10" text-anchor="middle">1.5</text>
<text x="801.34" y="1363.10" text-anchor="middle">2.0</text>
<text x="859.66" y="1363.10" text-anchor="middle">2.5</text>
<text x="917.98" y="1363.10" text-anchor="middle">3.0</text>
<text x="976.30" y="1363.10" text-anchor="middle">3.5</text>
<text x="1034.62" y="1363.10" text-anchor="middle">4.0</text>
<text x="1092.94" y="1363.10" text-anchor="middle">4.5</text>
<text x="1151.26" y="1363.10" text-anchor="middle">5.0</text>
<text x="651.20" y="1333.30" text-anchor="end">3</text>
<text x="651.20" y="1267.30" text-anchor="end">4</text>
<text x="651.20" y="1201.30" text-anchor="end">5</text>
<text x="651.20" y="1135.30" text-anchor="end">6</text>
<text x="651.20" y="1069.30" text-anchor="end">7</text>
<text x="651.20" y="1003.30" text-anchor="end">8</text>
</g>
<text x="917.50" y="1385.70" text-anchor="middle" font-family="DejaVu Sans, Liberation Sans, sans-serif" font-size="20" fill="#111">H</text>
<text transform="translate(636.20,1163.60) rotate(-90) scale(0.86,1)" text-anchor="middle" font-family="DejaVu Sans, Liberation Sans, sans-serif" font-size="16" fill="#111" stroke="#111" stroke-width="0.3">V</text>
<g font-family="Liberation Serif, DejaVu Serif, serif" font-size="23" fill="#111">
<text x="183.75" y="456.75" textLength="27.00" lengthAdjust="spacingAndGlyphs">(a)</text>
<text x="223.00" y="456.75" textLength="13.00" lengthAdjust="spacingAndGlyphs" font-style="italic">β</text>
<text x="242.75" y="456.75" textLength="18.25" lengthAdjust="spacingAndGlyphs">=</text>
<text x="268.75" y="456.75" textLength="28.75" lengthAdjust="spacingAndGlyphs">0.2</text>
<text x="306.25" y="456.75" textLength="36.25" lengthAdjust="spacingAndGlyphs">and</text>
<text x="353.00" y="456.75" textLength="18.25" lengthAdjust="spacingAndGlyphs" font-style="italic">D</text>
<text x="377.75" y="456.75" textLength="18.25" lengthAdjust="spacingAndGlyphs">=</text>
<text x="404.00" y="456.75" textLength="19.50" lengthAdjust="spacingAndGlyphs" font-style="italic">H</text>
</g>
<g font-family="Liberation Serif, DejaVu Serif, serif" font-size="23" fill="#111">
<text x="833.25" y="456.75" textLength="28.00" lengthAdjust="spacingAndGlyphs">(b)</text>
<text x="873.50" y="456.75" textLength="12.75" lengthAdjust="spacingAndGlyphs" font-style="italic">β</text>
<text x="892.75" y="456.75" textLength="18.25" lengthAdjust="spacingAndGlyphs">=</text>
<text x="919.50" y="456.75" textLength="28.00" lengthAdjust="spacingAndGlyphs">0.2</text>
<text x="957.00" y="456.75" textLength="36.25" lengthAdjust="spacingAndGlyphs">and</text>
<text x="1003.75" y="456.75" textLength="18.25" lengthAdjust="spacingAndGlyphs" font-style="italic">D</text>
<text x="1028.50" y="456.75" textLength="18.25" lengthAdjust="spacingAndGlyphs">=</text>
<text x="1055.00" y="456.75" textLength="13.50" lengthAdjust="spacingAndGlyphs" font-style="italic">L</text>
</g>
<g font-family="Liberation Serif, DejaVu Serif, serif" font-size="23" fill="#111">
<text x="163.00" y="946.75" textLength="26.50" lengthAdjust="spacingAndGlyphs">(c)</text>
<text x="201.50" y="946.75" textLength="13.50" lengthAdjust="spacingAndGlyphs" font-style="italic">β</text>
<text x="221.00" y="946.75" textLength="18.00" lengthAdjust="spacingAndGlyphs">=</text>
<text x="247.00" y="946.75" textLength="28.50" lengthAdjust="spacingAndGlyphs">0.5</text>
<text x="285.00" y="946.75" textLength="36.25" lengthAdjust="spacingAndGlyphs">and</text>
<text x="332.00" y="946.75" textLength="18.00" lengthAdjust="spacingAndGlyphs" font-style="italic">D</text>
<text x="356.50" y="946.75" textLength="18.25" lengthAdjust="spacingAndGlyphs">=</text>
<text x="382.50" y="946.75" textLength="19.50" lengthAdjust="spacingAndGlyphs" font-style="italic">H</text>
</g>
<g font-family="Liberation Serif, DejaVu Serif, serif" font-size="23" fill="#111">
<text x="812.50" y="946.75" textLength="28.00" lengthAdjust="spacingAndGlyphs">(d)</text>
<text x="852.50" y="946.75" textLength="13.25" lengthAdjust="spacingAndGlyphs" font-style="italic">β</text>
<text x="872.25" y="946.75" textLength="18.25" lengthAdjust="spacingAndGlyphs">=</text>
<text x="898.75" y="946.75" textLength="28.00" lengthAdjust="spacingAndGlyphs">0.5</text>
<text x="936.25" y="946.75" textLength="36.25" lengthAdjust="spacingAndGlyphs">and</text>
<text x="983.00" y="946.75" textLength="18.25" lengthAdjust="spacingAndGlyphs" font-style="italic">D</text>
<text x="1007.75" y="946.75" textLength="18.25" lengthAdjust="spacingAndGlyphs">=</text>
<text x="1034.50" y="946.75" textLength="13.50" lengthAdjust="spacingAndGlyphs" font-style="italic">L</text>
</g>
<g font-family="Liberation Serif, DejaVu Serif, serif" font-size="23" fill="#111">
<text x="163.00" y="1436.75" textLength="26.50" lengthAdjust="spacingAndGlyphs">(e)</text>
<text x="201.50" y="1436.75" textLength="13.50" lengthAdjust="spacingAndGlyphs" font-style="italic">β</text>
<text x="221.00" y="1436.75" textLength="18.00" lengthAdjust="spacingAndGlyphs">=</text>
<text x="247.00" y="1436.75" textLength="28.50" lengthAdjust="spacingAndGlyphs">0.8</text>
<text x="285.00" y="1436.75" textLength="36.25" lengthAdjust="spacingAndGlyphs">and</text>
<text x="332.00" y="1436.75" textLength="18.00" lengthAdjust="spacingAndGlyphs" font-style="italic">D</text>
<text x="356.50" y="1436.75" textLength="18.25" lengthAdjust="spacingAndGlyphs">=</text>
<text x="382.50" y="1436.75" textLength="19.50" lengthAdjust="spacingAndGlyphs" font-style="italic">H</text>
</g>
<g font-family="Liberation Serif, DejaVu Serif, serif" font-size="23" fill="#111">
<text x="790.50" y="1436.75" textLength="24.00" lengthAdjust="spacingAndGlyphs">(f)</text>
<text x="826.75" y="1436.75" textLength="13.25" lengthAdjust="spacingAndGlyphs" font-style="italic">β</text>
<text x="846.50" y="1436.75" textLength="18.25" lengthAdjust="spacingAndGlyphs">=</text>
<text x="872.50" y="1436.75" textLength="28.75" lengthAdjust="spacingAndGlyphs">0.8</text>
<text x="910.75" y="1436.75" textLength="36.00" lengthAdjust="spacingAndGlyphs">and</text>
<text x="957.50" y="1436.75" textLength="18.00" lengthAdjust="spacingAndGlyphs" font-style="italic">D</text>
<text x="982.00" y="1436.75" textLength="18.25" lengthAdjust="spacingAndGlyphs">=</text>
<text x="1008.75" y="1436.75" textLength="13.25" lengthAdjust="spacingAndGlyphs" font-style="italic">L</text>
</g>
</svg></body></html>
